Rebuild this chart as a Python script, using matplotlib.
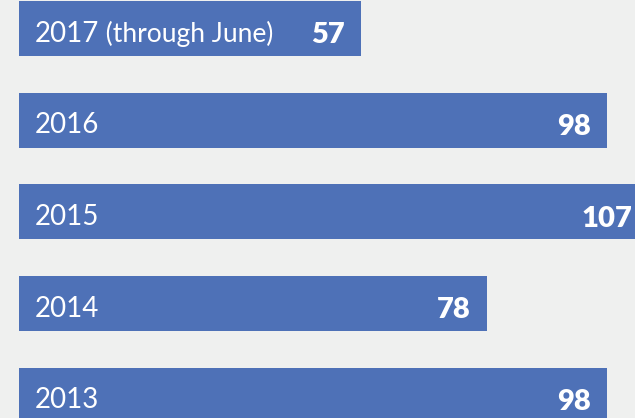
import matplotlib
matplotlib.use("Agg")
import matplotlib.pyplot as plt

years = ["2017", "2016", "2015", "2014", "2013"]
notes = ["(through June)", "", "", "", ""]
counts = [57, 98, 107, 78, 98]

BAR = "#4e71b7"
BG = "#eff0ef"

plt.rcParams["font.family"] = ["Lato", "DejaVu Sans"]

fig = plt.figure(figsize=(6.35, 4.18), dpi=100, facecolor=BG)
ax = fig.add_axes([0, 0, 1, 1], facecolor=BG)

ypos = [len(years) - 1 - i for i in range(len(years))]
ax.barh(ypos, counts, height=0.6, color=BAR)

xmax = 102.7
ax.set_xlim(-3.17, xmax)
ax.set_ylim(-0.25, 4.31)
ax.axis("off")

for y, yr, note, c in zip(ypos, years, notes, counts):
    t = ax.text(2.6, y - 0.03, yr, color="white", fontsize=20,
                va="center_baseline", ha="left")
    if note:
        ax.annotate(" " + note, xy=(1, 0), xycoords=t, color="white",
                    fontsize=19, va="bottom", ha="left")
    vx = min(c - 2.7, xmax - 0.5)
    ax.text(vx, y - 0.05, str(c), color="white", fontsize=21,
            fontweight="heavy", va="center_baseline", ha="right")

fig.savefig("out.png", dpi=100, facecolor=BG)
